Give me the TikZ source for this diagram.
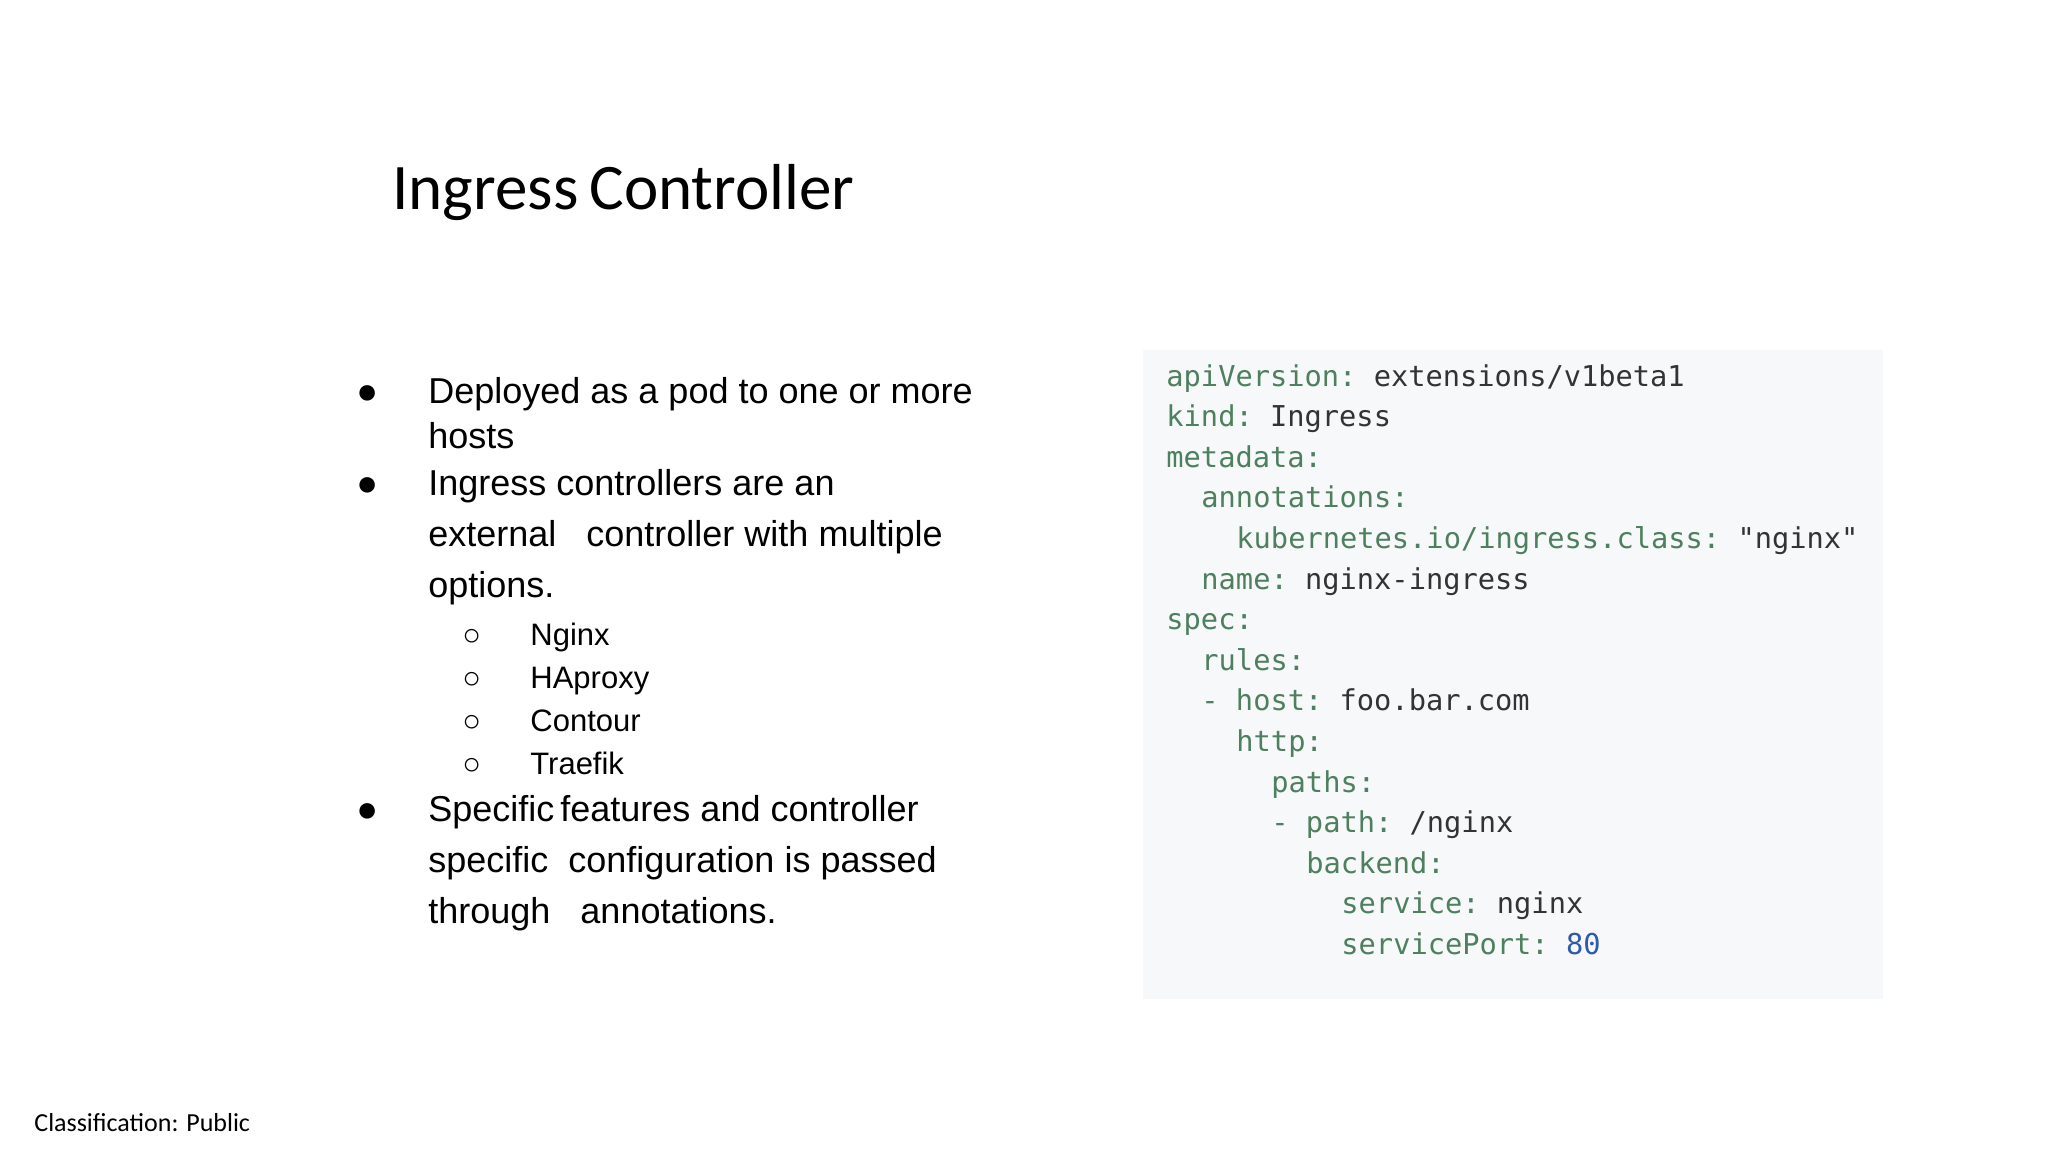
\documentclass[tikz,border=0pt]{standalone}
\usepackage{fontspec}
\setmainfont{Liberation Sans}
\newfontfamily\carl{Carlito}
\newfontfamily\codef{DejaVu Sans Mono}
\definecolor{keyc}{HTML}{4E7F5E}
\definecolor{valc}{HTML}{333333}
\definecolor{numc}{HTML}{2F5AA8}
\definecolor{boxc}{HTML}{F6F8FA}
\begin{document}
\begin{tikzpicture}[x=0.5pt,y=-0.5pt,
  txt/.style={anchor=base west,inner sep=0pt,font=\fontsize{18}{22}\selectfont,text=black},
  sub/.style={anchor=base west,inner sep=0pt,font=\fontsize{15.5}{19}\selectfont,text=black},
  code/.style={anchor=base west,inner sep=0pt,font=\codef\fontsize{14.35}{17}\selectfont,text=valc}]
\useasboundingbox (0,0) rectangle (2048,1152);
\fill[white] (0,0) rectangle (2048,1152);
\node[anchor=base west,inner sep=0pt,font=\carl\fontsize{32.5}{36}\selectfont] (title) at (392,209) {Ingress\,Controller};
% bullets
\foreach \y/\t [count=\i] in {403/Deployed as a pod to one or more, 448/hosts, 495/Ingress controllers are an, 546/external\ \ \ controller with multiple, 597/options., 821/Specific\,features and controller, 872/specific\ \ configuration is passed, 923/through\ \ \ annotations.}
  \node[txt] (b\i) at (428,\y) {\t};
\foreach \y [count=\i] in {403,495,821}
  \node[txt] (d\i) at (356,\y) {●};
\foreach \y/\t [count=\i] in {645/Nginx,688/HAproxy,731/Contour,774/Traefik}{
  \node[sub] (s\i) at (530,\y) {\t};
  \node[sub] (c\i) at (462,\y) {○};}
% code box
\node[fill=boxc,inner sep=0pt,minimum width=370pt,minimum height=324.5pt,anchor=north west] (box) at (1143,350) {};
\foreach \ind/\k/\v [count=\i] in {0/apiVersion:/extensions\slash v1beta1, 0/kind:/Ingress, 0/metadata:/{}, 2/annotations:/{}, 4/kubernetes.io\slash ingress.class:/"nginx", 2/name:/nginx-ingress, 0/spec:/{}, 2/rules:/{}, 2/- host:/foo.bar.com, 4/http:/{}, 6/paths:/{}, 6/- path:/\slash nginx, 8/backend:/{}, 10/service:/nginx, 10/servicePort:/{\textcolor{numc}{80}}}
  \node[code] (l\i) at ({1166+17.5*\ind}, {386+40.6*(\i-1)}) {\textcolor{keyc}{\k}\ \v};
\node[anchor=base west,inner sep=0pt,font=\carl\fontsize{13}{15}\selectfont] (foot) at (34,1131) {Classification: Public};
\end{tikzpicture}
\end{document}
